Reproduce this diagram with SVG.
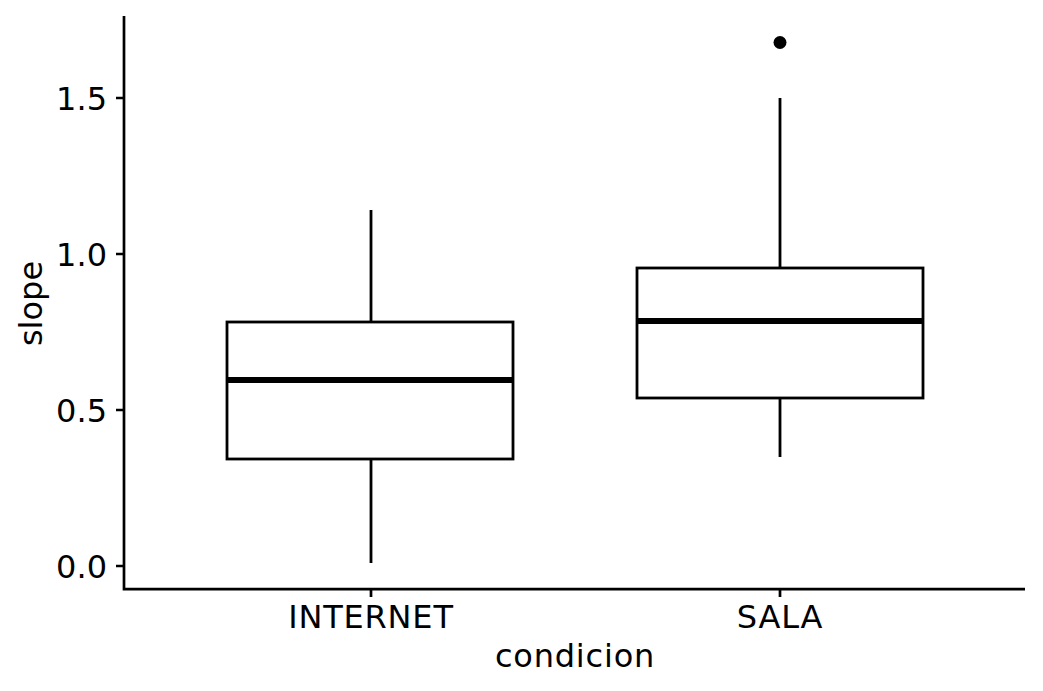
<svg xmlns="http://www.w3.org/2000/svg" width="1043" height="691" viewBox="0 0 1043 691">
<style>
.ax{stroke:#000;stroke-width:2.7;fill:none;stroke-linecap:butt}
.box{stroke:#000;stroke-width:2.8;fill:#fff}
.wh{stroke:#000;stroke-width:2.8;fill:none}
.med{stroke:#000;stroke-width:5.8;fill:none}
.tl{font-family:"DejaVu Sans",sans-serif;font-size:32px;fill:#000}
.lw{letter-spacing:0.8px}
</style>
<rect width="1043" height="691" fill="#fff"/>
<g id="axes">
<path class="ax" d="M124 16V589.2H1025"/>
<path class="ax" d="M116 98H124M116 254H124M116 410H124M116 566H124"/>
<path class="ax" d="M371 589V597M780 589V597"/>
<text class="tl" x="107" y="109.5" text-anchor="end">1.5</text>
<text class="tl" x="107" y="265.5" text-anchor="end">1.0</text>
<text class="tl" x="107" y="421.5" text-anchor="end">0.5</text>
<text class="tl" x="107" y="577.5" text-anchor="end">0.0</text>
<text class="tl lw" x="371" y="628" text-anchor="middle">INTERNET</text>
<text class="tl lw" x="780" y="628" text-anchor="middle">SALA</text>
<text class="tl lw" x="575" y="666.5" text-anchor="middle">condicion</text>
<text class="tl" x="0" y="0" text-anchor="middle" transform="translate(42 303.5) rotate(-90)">slope</text>
</g>
<g id="internet">
<path class="wh" d="M371 210V322M371 459V563"/>
<rect class="box" x="227" y="322" width="286" height="137"/>
<path class="med" d="M227 380H513"/>
</g>
<g id="sala">
<path class="wh" d="M780 98V268M780 398V457"/>
<rect class="box" x="637" y="268" width="286" height="130"/>
<path class="med" d="M637 321H923"/>
<circle cx="780" cy="42.5" r="6.5" fill="#000"/>
</g>
</svg>
